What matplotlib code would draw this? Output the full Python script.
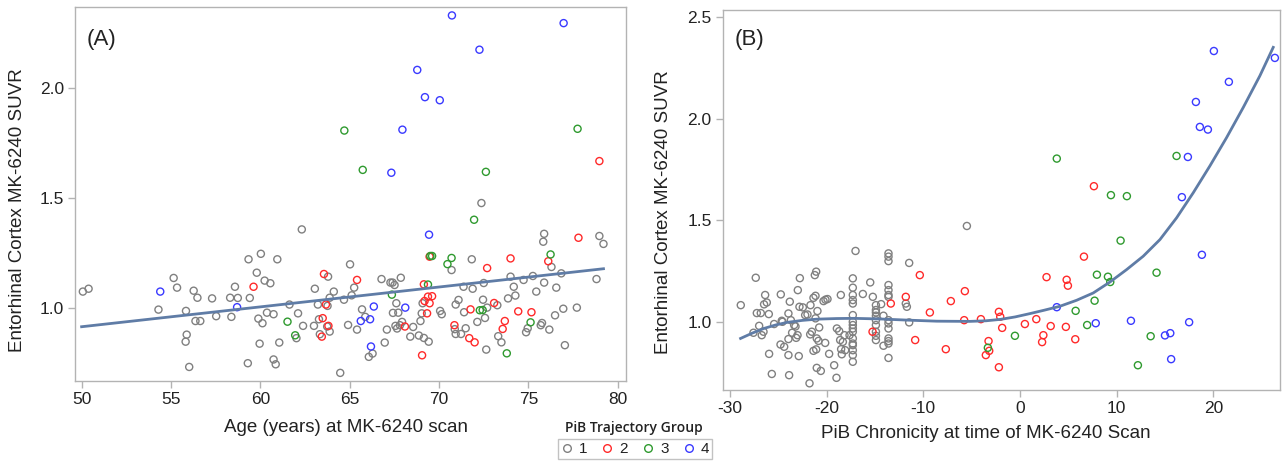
import matplotlib
matplotlib.use("Agg")
import matplotlib.pyplot as plt
from matplotlib.lines import Line2D

plt.rcParams['font.family'] = ['Liberation Sans', 'DejaVu Sans']
plt.rcParams['axes.unicode_minus'] = False

# ---------------- Panel A data: Age vs SUVR ----------------
a_g1_x = [50.07, 50.39, 54.30, 55.15, 55.34, 55.84, 55.88, 55.82, 56.02, 56.27, 56.48, 56.37, 56.64, 57.30, 57.53,
          58.31, 58.38, 58.58, 58.74, 59.41, 59.34, 59.80, 59.30, 59.89, 60.03, 60.12, 59.96, 60.24, 60.37, 60.56,
          60.74, 60.74, 60.86, 60.95, 61.06, 61.63, 62.02, 62.11, 62.39, 62.32, 63.00, 63.05, 63.22, 63.28, 63.33,
          63.79, 63.76, 63.74, 63.88, 63.88, 64.11, 64.47, 64.68, 64.91, 65.02, 65.11, 65.25, 65.41, 65.69, 65.87,
          66.07, 66.28, 66.78, 66.96, 67.08, 67.28, 67.40, 67.51, 67.42, 67.56, 67.65, 67.61, 67.72, 67.81, 67.86,
          67.93, 68.39, 68.55, 68.87, 68.96, 69.08, 69.15, 69.03, 69.42, 70.06, 70.15, 70.70, 70.88, 70.93, 70.93,
          71.09, 71.23, 71.37, 71.40, 71.49, 71.83, 71.88, 72.14, 72.50, 72.46, 72.57, 72.64, 72.69, 73.26, 73.31,
          73.49, 74.00, 73.86, 74.18, 74.27, 74.73, 74.87, 74.96, 75.25, 75.44, 75.69, 75.76, 75.88, 75.88, 75.83,
          76.29, 76.17, 76.49, 76.56, 76.95, 76.84, 77.04, 77.71, 78.81, 78.97, 79.20, 72.37]
a_g1_y = [1.073, 1.086, 0.991, 1.135, 1.091, 0.985, 0.877, 0.845, 0.730, 1.077, 1.045, 0.939, 0.939, 1.042, 0.961,
          1.045, 0.958, 1.095, 1.044, 1.044, 1.220, 1.159, 0.747, 0.950, 1.245, 0.929, 0.836, 1.123, 0.977, 1.111,
          0.970, 0.764, 0.742, 1.220, 0.841, 1.014, 0.861, 0.974, 0.917, 1.356, 0.917, 1.086, 1.014, 0.947, 0.879,
          1.141, 1.008, 0.914, 0.891, 1.045, 1.073, 0.703, 1.036, 0.921, 1.197, 1.056, 1.091, 0.900, 0.992, 0.958,
          0.776, 0.791, 1.130, 0.841, 0.900, 1.114, 1.114, 1.103, 0.976, 0.917, 0.905, 1.020, 0.977, 0.920, 1.136,
          0.935, 0.868, 0.912, 0.873, 0.939, 1.020, 0.862, 0.974, 0.845, 0.985, 0.970, 1.171, 0.902, 0.880, 1.014,
          1.035, 0.880, 1.095, 0.979, 0.906, 1.220, 1.086, 0.935, 1.112, 1.036, 0.953, 0.809, 1.000, 1.011, 0.870,
          0.842, 1.141, 1.042, 1.095, 1.055, 1.126, 0.888, 0.906, 1.144, 1.073, 0.920, 0.930, 1.114, 1.336, 1.300,
          1.185, 0.900, 0.965, 1.091, 0.995, 1.156, 0.829, 1.000, 1.130, 1.326, 1.290, 1.476]

a_g2_x = [59.62, 63.44, 63.49, 63.56, 63.67, 63.81, 65.41, 68.09, 69.05, 69.15, 69.19, 69.33, 69.38, 69.47, 69.61,
          69.47, 70.86, 71.69, 71.76, 71.99, 72.69, 73.08, 73.56, 73.68, 74.00, 74.43, 75.17, 76.11, 77.80, 78.97]
a_g2_y = [1.095, 0.868, 0.952, 1.153, 1.014, 0.917, 1.126, 0.914, 0.783, 1.106, 1.030, 0.974, 1.050, 1.020, 1.052,
          1.232, 0.920, 0.861, 0.992, 0.842, 1.180, 1.021, 0.903, 0.939, 1.224, 0.983, 0.979, 1.211, 1.318, 1.667]

a_g3_x = [61.52, 61.95, 67.36, 69.38, 69.51, 69.61, 70.47, 70.70, 72.28, 72.44, 73.79, 75.12, 76.24, 71.96, 72.62,
          65.73, 64.70, 77.75]
a_g3_y = [0.936, 0.874, 1.059, 1.105, 1.235, 1.235, 1.198, 1.226, 0.988, 0.989, 0.792, 0.933, 1.242, 1.400, 1.618,
          1.627, 1.806, 1.814]

a_g4_x = [54.40, 58.70, 65.62, 66.14, 66.19, 66.35, 68.11, 69.44, 67.33, 67.95, 69.21, 70.04, 68.78, 72.26, 70.72,
          76.97]
a_g4_y = [1.073, 1.002, 0.939, 0.947, 0.823, 1.005, 1.000, 1.332, 1.614, 1.810, 1.958, 1.944, 2.082, 2.174, 2.330,
          2.295]

# linear fit line
a_fit_x = [50.0, 79.2]
a_fit_y = [0.913, 1.177]

# ---------------- Panel B data: PiB chronicity vs SUVR ----------------
b_g1_x = [-28.88, -27.57, -27.33, -27.22, -26.81, -26.98, -26.71, -26.53, -26.36, -26.47, -26.19, -25.98, -25.95,
          -25.67, -25.43, -24.74, -24.77, -24.57, -24.39, -24.64, -23.95, -23.95, -23.95, -23.88, -23.81, -23.70,
          -23.57, -23.36, -23.22, -23.15, -23.01, -22.98, -22.88, -22.81, -22.46, -22.77, -22.22, -21.98, -21.67,
          -21.70, -21.77, -21.53, -21.36, -21.22, -21.08, -21.15, -21.36, -21.08, -21.15, -20.95, -21.02, -20.84,
          -20.77, -21.02, -20.60, -20.32, -20.12, -19.91, -20.15, -19.74, -19.22, -18.98, -18.94, -18.70, -18.53,
          -18.60, -18.50, -18.32, -18.15, -18.08, -17.63, -18.43,
          -17.29, -17.29, -17.29, -17.29, -17.29, -17.29, -17.29, -17.29, -17.29, -17.29, -17.29, -17.29, -17.29,
          -17.29, -17.29, -17.29,
          -17.01, -16.25, -15.49, -15.22,
          -14.90, -14.90, -14.90, -14.90, -14.90, -14.90, -14.90, -14.90, -14.90,
          -14.36, -14.12, -14.12,
          -13.60, -13.60, -13.60, -13.60, -13.60, -13.60, -13.60, -13.60, -13.60, -13.60, -13.60, -13.60, -13.60,
          -13.60,
          -11.46, -11.81, -11.70, -11.46, -5.49]
b_g1_y = [1.082, 0.946, 1.217, 1.043, 1.043, 0.980, 0.934, 0.951, 1.132, 1.086, 1.095, 1.038, 0.842,
          0.743, 0.989, 1.135, 0.888, 1.000, 0.877, 1.005, 1.041, 0.915, 0.836, 0.737, 1.099, 1.008,
          0.946, 0.984, 0.977, 0.921, 0.934, 1.156, 0.831, 1.074, 1.071, 1.215, 1.033, 1.036, 1.082,
          0.938, 0.697, 0.951, 1.118, 1.230, 1.247, 1.128, 0.857, 0.864, 1.017, 1.053, 0.918, 0.906,
          0.972, 0.773, 0.758, 1.102, 1.109, 1.112, 0.896, 0.842, 0.786, 0.724, 0.967, 0.954, 1.132,
          0.910, 0.865, 0.901, 0.934, 0.860, 0.934, 0.840,
          1.214, 1.168, 1.132, 1.107, 1.090, 1.033, 1.000, 0.984, 0.967, 0.951, 0.918, 0.893, 0.885,
          0.860, 0.836, 0.803,
          1.349, 1.137, 1.194, 1.123,
          1.082, 1.058, 1.046, 1.030, 1.008, 0.984, 0.951, 0.931, 0.910,
          1.087, 1.030, 0.882,
          1.337, 1.321, 1.299, 1.181, 1.156, 1.132, 1.123, 1.008, 0.992, 0.967, 0.918, 0.905, 0.893,
          0.822,
          1.290, 1.090, 1.074, 0.997, 1.472]

b_g2_x = [-15.25, -13.36, -11.81, -10.36, -10.84, -9.32, -7.67, -7.15, -5.70, -5.77, -4.04, -3.25, -3.18, -3.53,
          -2.18, -2.04, -1.84, -2.18, 0.51, 1.69, 2.75, 2.42, 2.29, 3.18, 4.75, 4.83, 4.96, 5.72, 6.62, 7.65]
b_g2_y = [0.951, 1.090, 1.123, 1.230, 0.910, 1.046, 0.865, 1.102, 1.151, 1.008, 1.013, 0.905, 0.857, 0.836,
          1.049, 1.025, 0.970, 0.776, 0.989, 1.013, 1.220, 0.934, 0.900, 0.979, 0.975, 1.207, 1.178, 0.914, 1.321,
          1.668]

b_g3_x = [-3.32, -0.52, 5.76, 6.95, 7.72, 7.96, 9.10, 9.34, 10.41, 12.20, 13.52, 14.13, 3.81, 9.41, 11.06, 16.20]
b_g3_y = [0.872, 0.931, 1.054, 0.984, 1.104, 1.232, 1.222, 1.196, 1.400, 0.786, 0.929, 1.242, 1.804, 1.624, 1.619,
          1.817]

b_g4_x = [3.81, 7.84, 11.48, 15.00, 15.55, 15.64, 17.50, 18.82, 17.37, 16.75, 18.20, 18.61, 19.44, 20.06, 21.61,
          26.37]
b_g4_y = [1.072, 0.993, 1.005, 0.933, 0.944, 0.816, 0.998, 1.330, 1.812, 1.614, 2.083, 1.960, 1.947, 2.334, 2.182,
          2.300]

# smooth fit curve
b_fit_x = [-28.9, -27.7, -26.5, -25.3, -24.1, -22.5, -21.0, -19.0, -17.2, -14.5, -11.5, -8.6, -5.2, -3.5, -2.0,
           -0.5, 1.0, 2.5, 4.1, 5.86, 7.58, 9.31, 11.03, 12.75, 14.48, 16.2, 17.93, 19.65, 21.37, 23.1, 24.82, 26.2]
b_fit_y = [0.918, 0.944, 0.967, 0.984, 0.997, 1.007, 1.013, 1.016, 1.017, 1.014, 1.008, 1.003, 1.002, 1.005,
           1.012, 1.024, 1.040, 1.057, 1.076, 1.106, 1.142, 1.196, 1.257, 1.323, 1.405, 1.512, 1.636, 1.768, 1.907,
           2.056, 2.212, 2.352]

groups = ['1', '2', '3', '4']
colors = ['#808080', '#ff2a2a', '#2f9a2f', '#3a3aff']
line_color = '#5f7ca6'
spine_color = '#b3b3b3'
text_color = '#222222'
ylabel = 'Entorhinal Cortex MK-6240 SUVR'

W, H = 1282, 462
fig = plt.figure(figsize=(W / 100, H / 100), dpi=100)


def frac(l, t, r, b):
    return [l / W, 1 - b / H, (r - l) / W, (b - t) / H]


def style(ax):
    for s in ax.spines.values():
        s.set_color(spine_color)
        s.set_linewidth(1.0)
    ax.tick_params(direction='out', length=5, width=1, color=spine_color,
                   labelsize=12.5, labelcolor=text_color, pad=3)


axA = fig.add_axes(frac(75, 7.3, 626, 381))
data_a = [(a_g1_x, a_g1_y), (a_g2_x, a_g2_y), (a_g3_x, a_g3_y), (a_g4_x, a_g4_y)]
handles = []
for (xs, ys), c, g in zip(data_a, colors, groups):
    axA.scatter(xs, ys, s=26, facecolors='none', edgecolors=c, linewidths=1.0, zorder=2)
    handles.append(Line2D([], [], linestyle='none', marker='o', markersize=5.5,
                          markerfacecolor='none', markeredgecolor=c, markeredgewidth=1.0))
axA.plot(a_fit_x, a_fit_y, color=line_color, lw=2, zorder=3)
axA.set_xlim(49.63, 80.46)
axA.set_ylim(0.666, 2.367)
axA.set_xticks([50, 55, 60, 65, 70, 75, 80])
axA.set_yticks([1.0, 1.5, 2.0])
axA.set_yticklabels(['1.0', '1.5', '2.0'])
style(axA)
axA.set_xlabel('Age (years) at MK-6240 scan', fontsize=13.5, color=text_color)
axA.xaxis.set_label_coords((346 - 75) / 551, -(427 - 381) / 373.7)
axA.xaxis.label.set_va('center')
axA.set_ylabel(ylabel, fontsize=13.5, color=text_color)
axA.yaxis.set_label_coords((18 - 75) / 551, (381 - 210) / 373.7)
axA.yaxis.label.set_va('center')
axA.text((87 - 75) / 551, (381 - 39) / 373.7, '(A)', transform=axA.transAxes,
         fontsize=16, va='center', ha='left', color=text_color)

axB = fig.add_axes(frac(722.7, 10, 1280, 390))
data_b = [(b_g1_x, b_g1_y), (b_g2_x, b_g2_y), (b_g3_x, b_g3_y), (b_g4_x, b_g4_y)]
for (xs, ys), c in zip(data_b, colors):
    axB.scatter(xs, ys, s=26, facecolors='none', edgecolors=c, linewidths=1.0, zorder=2)
axB.plot(b_fit_x, b_fit_y, color=line_color, lw=2, zorder=3, solid_joinstyle='round')
axB.set_xlim(-30.75, 26.9)
axB.set_ylim(0.664, 2.536)
axB.set_xticks([-30, -20, -10, 0, 10, 20])
axB.set_yticks([1.0, 1.5, 2.0, 2.5])
axB.set_yticklabels(['1.0', '1.5', '2.0', '2.5'])
style(axB)
axB.set_xlabel('PiB Chronicity at time of MK-6240 Scan', fontsize=13.5, color=text_color)
axB.xaxis.set_label_coords((986 - 722.7) / 557.3, -(434 - 390) / 380)
axB.xaxis.label.set_va('center')
axB.set_ylabel(ylabel, fontsize=13.5, color=text_color)
axB.yaxis.set_label_coords((663 - 722.7) / 557.3, (390 - 212) / 380)
axB.yaxis.label.set_va('center')
axB.text((735 - 722.7) / 557.3, (390 - 39) / 380, '(B)', transform=axB.transAxes,
         fontsize=16, va='center', ha='left', color=text_color)

# legend
fig.text(634 / W, 1 - 428 / H, 'PiB Trajectory Group', ha='center', va='center',
         fontsize=10, family=['Open Sans', 'DejaVu Sans'], fontweight='semibold', color=text_color)
leg = fig.legend(handles, groups, ncol=4, loc='center', bbox_to_anchor=(635 / W, 1 - 449 / H),
                 frameon=True, fancybox=False, edgecolor=spine_color, fontsize=11,
                 handlelength=0.8, handletextpad=0.4, columnspacing=0.9, borderpad=0.2,
                 borderaxespad=0)
leg.get_frame().set_linewidth(1.0)
for t in leg.get_texts():
    t.set_color(text_color)

fig.savefig('out.png', dpi=100)
